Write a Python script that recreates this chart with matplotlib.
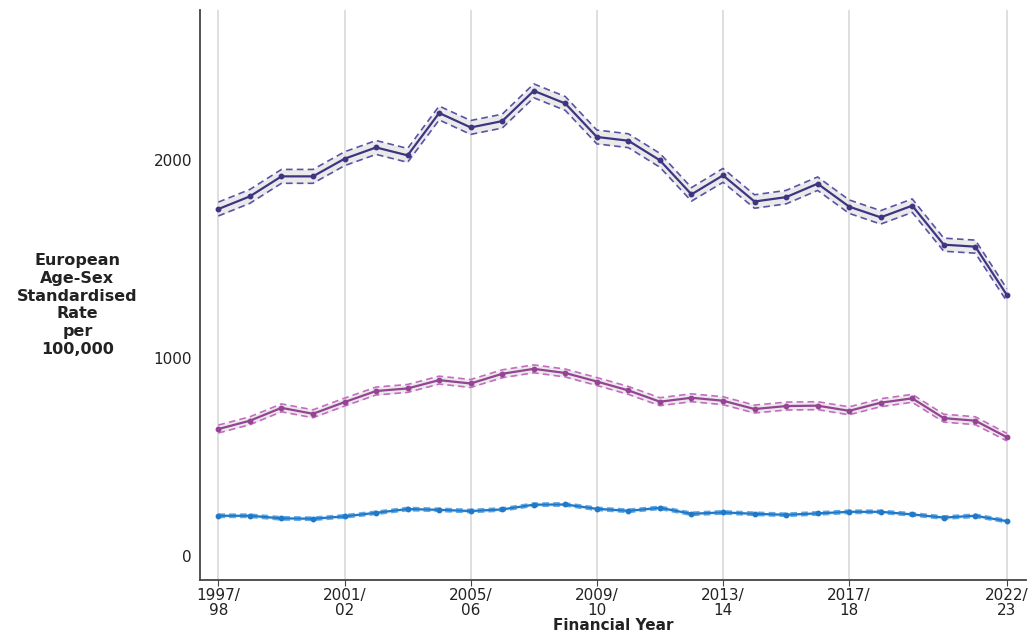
#
# plot.py - standardised rate per 100,000 by financial year, three series with CI bands
#
import numpy as np
import matplotlib
matplotlib.use('Agg')
import matplotlib.pyplot as plt

# financial years 1997/98 .. 2022/23
years = ['1997/\n98', '1998/\n99', '1999/\n00', '2000/\n01', '2001/\n02', '2002/\n03',
         '2003/\n04', '2004/\n05', '2005/\n06', '2006/\n07', '2007/\n08', '2008/\n09',
         '2009/\n10', '2010/\n11', '2011/\n12', '2012/\n13', '2013/\n14', '2014/\n15',
         '2015/\n16', '2016/\n17', '2017/\n18', '2018/\n19', '2019/\n20', '2020/\n21',
         '2021/\n22', '2022/\n23']
shown_ticks = ['1997/\n98', '2001/\n02', '2005/\n06', '2009/\n10', '2013/\n14', '2017/\n18', '2022/\n23']

# top series (dark purple)
top_rate = [1751, 1815, 1916, 1916, 2005, 2062, 2022, 2236, 2163, 2195, 2348, 2284, 2115,
            2096, 1997, 1825, 1921, 1789, 1811, 1879, 1763, 1709, 1768, 1571, 1561, 1317]
top_lower = [1716, 1780, 1881, 1881, 1970, 2027, 1987, 2201, 2128, 2160, 2313, 2249, 2080,
             2061, 1962, 1791, 1886, 1755, 1777, 1845, 1729, 1675, 1734, 1538, 1528, 1285]
top_upper = [1786, 1850, 1951, 1951, 2040, 2097, 2057, 2271, 2198, 2230, 2383, 2319, 2150,
             2131, 2032, 1859, 1956, 1823, 1845, 1913, 1797, 1743, 1802, 1604, 1594, 1349]

# middle series (magenta)
mid_rate = [640, 682, 747, 717, 776, 832, 845, 887, 870, 919, 944, 923, 880,
            835, 778, 798, 783, 741, 756, 758, 732, 773, 795, 695, 682, 599]
mid_lower = [620, 662, 727, 697, 756, 812, 825, 867, 850, 899, 924, 903, 860,
             815, 758, 778, 763, 721, 736, 738, 712, 753, 775, 675, 662, 580]
mid_upper = [660, 702, 767, 737, 796, 852, 865, 907, 890, 939, 964, 943, 900,
             855, 798, 818, 803, 761, 776, 778, 752, 793, 815, 715, 702, 618]

# bottom series (blue)
low_rate = [202, 202, 189, 187, 199, 217, 236, 232, 226, 234, 258, 259, 237,
            227, 242, 212, 219, 212, 207, 214, 222, 222, 209, 193, 202, 175]
low_lower = [194, 194, 181, 179, 191, 209, 228, 224, 218, 226, 250, 251, 229,
             219, 234, 204, 211, 204, 199, 206, 214, 214, 201, 185, 194, 167]
low_upper = [210, 210, 197, 195, 207, 225, 244, 240, 234, 242, 266, 267, 245,
             235, 250, 220, 227, 220, 215, 222, 230, 230, 217, 201, 210, 183]

x = np.arange(len(years))

fig, ax = plt.subplots(figsize=(10.33, 6.42), dpi=100)
fig.subplots_adjust(left=0.194, right=0.993, top=0.985, bottom=0.097)

# (rate, lower, upper, line colour, dashed CI colour)
series = [(top_rate, top_lower, top_upper, '#3d3582', '#5b52a6'),
          (mid_rate, mid_lower, mid_upper, '#954393', '#c46cc0'),
          (low_rate, low_lower, low_upper, '#1f78c8', '#5fa8e6')]

for rate, lo, hi, col, dcol in series:
    ax.fill_between(x, lo, hi, color='#d9d9d9', alpha=0.55, lw=0, zorder=2)
    ax.plot(x, lo, color=dcol, lw=1.2, ls=(0, (4, 2.5)), zorder=3)
    ax.plot(x, hi, color=dcol, lw=1.2, ls=(0, (4, 2.5)), zorder=3)
    ax.plot(x, rate, color=col, lw=1.6, marker='o', ms=3.2, zorder=4)

# x axis: only some financial years get labels
tick_pos = [years.index(t) for t in shown_ticks]
ax.set_xticks(tick_pos)
ax.set_xticklabels(shown_ticks, fontsize=11, color='#222222', linespacing=1.0)
ax.set_xlim(-0.57, 25.6)
ax.grid(axis='x', color='#dcdcdc', lw=1.3, zorder=1)
ax.tick_params(axis='x', length=4, color='#444444', pad=2)

ax.set_yticks([0, 1000, 2000])
ax.set_yticklabels(['0', '1000', '2000'], fontsize=11, color='#222222')
ax.set_ylim(-121, 2758)
ax.tick_params(axis='y', length=0, pad=6)

for s in ['top', 'right']:
    ax.spines[s].set_visible(False)
for s in ['left', 'bottom']:
    ax.spines[s].set_color('#444444')
    ax.spines[s].set_linewidth(1.3)

ax.set_xlabel('Financial Year', fontsize=11, fontweight='bold', labelpad=0, color='#222222')
fig.text(0.075, 0.525, 'European\nAge-Sex\nStandardised\nRate\nper\n100,000',
         ha='center', va='center', fontsize=11.5, fontweight='bold', linespacing=1.22,
         color='#222222')

plt.savefig('out.png', dpi=100)
